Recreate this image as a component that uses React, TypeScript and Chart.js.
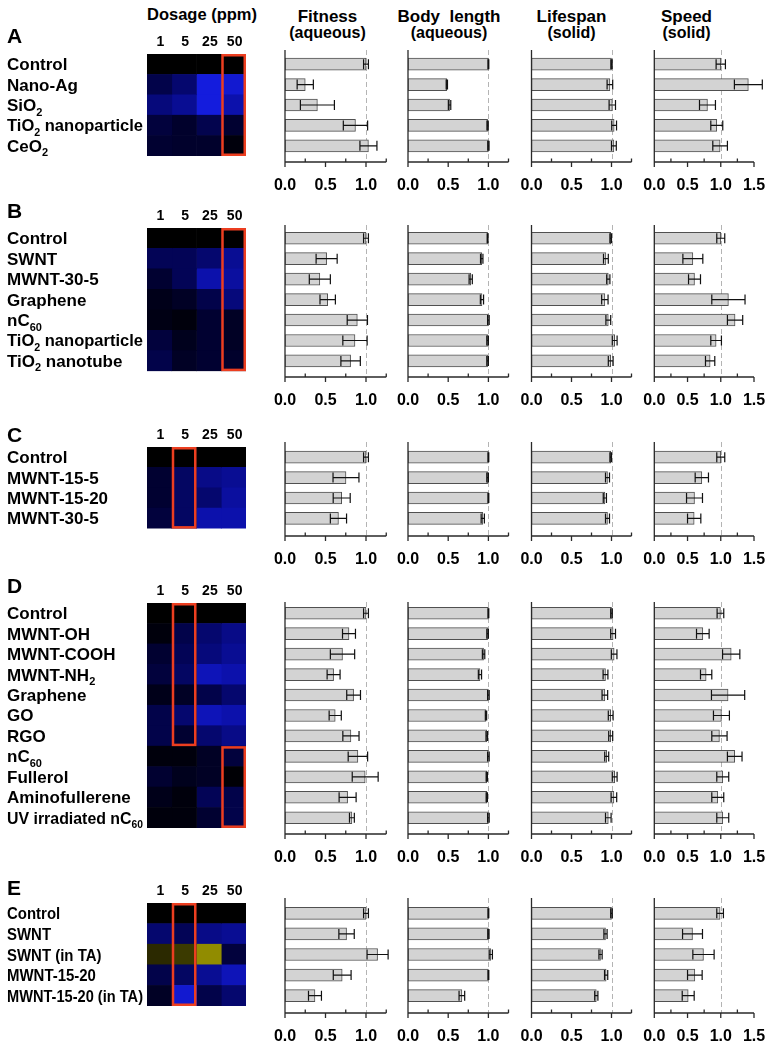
import React, { useEffect, useRef } from "react";
import { Chart, registerables } from "chart.js";

Chart.register(...registerables);

const FONT = '"Liberation Sans", Arial, Helvetica, sans-serif';

// ---------- shared text ----------
const doses = ["1", "5", "25", "50"];
const metricTitles = ["Fitness", "Body  length", "Lifespan", "Speed"];
const metricSubtitles = ["(aqueous)", "(aqueous)", "(solid)", "(solid)"];
const ticks125 = ["0.0", "0.5", "1.0"];
const ticks150 = ["0.0", "0.5", "1.0", "1.5"];

// ---------- panel A ----------
const labelsA = ["Control", "Nano-Ag", "SiO_2", "TiO_2 nanoparticle", "CeO_2"];
const heatA = [
  [0, 0, 0, 0],
  [-0.3, -0.45, -0.9, -0.85],
  [-0.5, -0.6, -0.9, -0.7],
  [-0.25, -0.18, -0.32, -0.2],
  [-0.2, -0.18, -0.18, -0.05],
];
const boxesA = [{ col: 3, from: 0, to: 4 }];
const fitA = [1.0, 0.25, 0.4, 0.87, 1.03];
const fitErrA = [0.03, 0.1, 0.21, 0.15, 0.105];
const bodyA = [1.0, 0.483, 0.517, 0.99, 1.0];
const bodyErrA = [0.005, 0.008, 0.015, 0.008, 0.008];
const lifeA = [1.0, 0.98, 1.01, 1.033, 1.03];
const lifeErrA = [0.008, 0.035, 0.04, 0.03, 0.03];
const speedA = [1.0, 1.415, 0.8, 0.94, 0.99];
const speedErrA = [0.07, 0.21, 0.12, 0.09, 0.11];

// ---------- panel B ----------
const labelsB = ["Control", "SWNT", "MWNT-30-5", "Graphene", "nC_60", "TiO_2 nanoparticle", "TiO_2 nanotube"];
const heatB = [
  [0, 0, 0, 0],
  [-0.35, -0.35, -0.45, -0.6],
  [-0.2, -0.35, -0.7, -0.65],
  [-0.1, -0.15, -0.3, -0.5],
  [-0.08, -0.05, -0.2, -0.15],
  [-0.25, -0.12, -0.2, -0.15],
  [-0.3, -0.15, -0.2, -0.18],
];
const boxesB = [{ col: 3, from: 0, to: 6 }];
const fitB = [1.0, 0.514, 0.43, 0.527, 0.893, 0.864, 0.81];
const fitErrB = [0.03, 0.13, 0.13, 0.095, 0.125, 0.15, 0.12];
const bodyB = [0.99, 0.917, 0.78, 0.92, 1.0, 0.99, 0.99];
const bodyErrB = [0.005, 0.015, 0.02, 0.02, 0.01, 0.01, 0.01];
const lifeB = [0.99, 0.93, 0.96, 0.917, 0.96, 1.04, 0.99];
const lifeErrB = [0.01, 0.03, 0.02, 0.04, 0.03, 0.03, 0.03];
const speedB = [1.0, 0.58, 0.605, 1.115, 1.215, 0.93, 0.84];
const speedErrB = [0.06, 0.15, 0.09, 0.25, 0.115, 0.08, 0.07];

// ---------- panel C ----------
const labelsC = ["Control", "MWNT-15-5", "MWNT-15-20", "MWNT-30-5"];
const heatC = [
  [0, 0, 0, 0],
  [-0.2, -0.4, -0.55, -0.6],
  [-0.2, -0.4, -0.45, -0.65],
  [-0.25, -0.4, -0.7, -0.7],
];
const boxesC = [{ col: 1, from: 0, to: 3 }];
const fitC = [1.0, 0.753, 0.7, 0.66];
const fitErrC = [0.03, 0.16, 0.105, 0.1];
const bodyC = [1.0, 0.99, 1.0, 0.93];
const bodyErrC = [0.005, 0.01, 0.005, 0.02];
const lifeC = [0.99, 0.95, 0.917, 0.95];
const lifeErrC = [0.01, 0.025, 0.02, 0.025];
const speedC = [1.0, 0.715, 0.605, 0.6];
const speedErrC = [0.06, 0.1, 0.12, 0.1];

// ---------- panel D ----------
const labelsD = [
  "Control", "MWNT-OH", "MWNT-COOH", "MWNT-NH_2", "Graphene", "GO", "RGO",
  "nC_60", "Fullerol", "Aminofullerene", "UV irradiated nC_60",
];
const heatD = [
  [0, 0, 0, 0],
  [-0.05, -0.3, -0.45, -0.55],
  [-0.2, -0.35, -0.5, -0.6],
  [-0.25, -0.4, -0.75, -0.7],
  [-0.1, -0.15, -0.3, -0.45],
  [-0.3, -0.45, -0.75, -0.7],
  [-0.3, -0.2, -0.45, -0.55],
  [-0.05, -0.05, -0.15, -0.25],
  [-0.2, -0.12, -0.15, -0.02],
  [-0.1, -0.05, -0.35, -0.3],
  [-0.05, -0.05, -0.2, -0.3],
];
const boxesD = [{ col: 1, from: 0, to: 6 }, { col: 3, from: 7, to: 10 }];
const fitD = [1.0, 0.79, 0.71, 0.6, 0.847, 0.62, 0.814, 0.9, 0.99, 0.773, 0.826];
const fitErrD = [0.03, 0.08, 0.15, 0.08, 0.085, 0.075, 0.1, 0.12, 0.16, 0.105, 0.03];
const bodyD = [1.0, 0.99, 0.94, 0.895, 1.0, 0.97, 0.98, 1.0, 0.98, 0.98, 1.0];
const bodyErrD = [0.005, 0.01, 0.015, 0.02, 0.01, 0.008, 0.01, 0.01, 0.008, 0.008, 0.01];
const lifeD = [1.0, 1.02, 1.033, 0.925, 0.917, 0.99, 0.99, 0.94, 1.04, 1.03, 0.96];
const lifeErrD = [0.01, 0.03, 0.035, 0.03, 0.035, 0.03, 0.025, 0.025, 0.03, 0.035, 0.035];
const speedD = [0.995, 0.73, 1.157, 0.78, 1.11, 1.01, 0.98, 1.21, 1.03, 0.955, 1.03];
const speedErrD = [0.05, 0.095, 0.13, 0.085, 0.25, 0.12, 0.115, 0.11, 0.09, 0.09, 0.09];

// ---------- panel E ----------
const labelsE = ["Control", "SWNT", "SWNT (in TA)", "MWNT-15-20", "MWNT-15-20 (in TA)"];
const heatE = [
  [0, 0, 0, 0],
  [-0.45, -0.35, -0.55, -0.6],
  [0.25, 0.35, 0.85, -0.25],
  [-0.3, -0.4, -0.6, -0.75],
  [-0.15, -0.85, -0.3, -0.45],
];
const boxesE = [{ col: 1, from: 0, to: 4 }];
const fitE = [1.0, 0.76, 1.143, 0.706, 0.37];
const fitErrE = [0.03, 0.095, 0.13, 0.11, 0.08];
const bodyE = [1.0, 1.0, 1.03, 1.0, 0.67];
const bodyErrE = [0.005, 0.008, 0.02, 0.005, 0.035];
const lifeE = [1.0, 0.925, 0.863, 0.933, 0.81];
const lifeErrE = [0.01, 0.02, 0.02, 0.02, 0.02];
const speedE = [0.99, 0.575, 0.74, 0.61, 0.51];
const speedErrE = [0.05, 0.15, 0.16, 0.11, 0.09];

// ---------- layout (pixel geometry only) ----------
const metricGeom = [
  { x0: 285, x1: 386.25, max: 1.25, ticks: ticks125, titleX: 327.5 },
  { x0: 408, x1: 508.5, max: 1.25, ticks: ticks125, titleX: 449 },
  { x0: 531.5, x1: 631.5, max: 1.25, ticks: ticks125, titleX: 571.5 },
  { x0: 654.3, x1: 754, max: 1.5, ticks: ticks150, titleX: 686.5 },
];

const panels = [
  { letter: "A", letterTop: 28, heatTop: 54, s: 20.4, axisTop: 50, axisBottom: 162, condense: 1,
    labels: labelsA, heat: heatA, boxes: boxesA,
    series: [[fitA, fitErrA], [bodyA, bodyErrA], [lifeA, lifeErrA], [speedA, speedErrA]] },
  { letter: "B", letterTop: 203, heatTop: 228, s: 20.45, axisTop: 225, axisBottom: 377, condense: 1,
    labels: labelsB, heat: heatB, boxes: boxesB,
    series: [[fitB, fitErrB], [bodyB, bodyErrB], [lifeB, lifeErrB], [speedB, speedErrB]] },
  { letter: "C", letterTop: 427, heatTop: 447, s: 20.4, axisTop: 442, axisBottom: 536, condense: 1,
    labels: labelsC, heat: heatC, boxes: boxesC,
    series: [[fitC, fitErrC], [bodyC, bodyErrC], [lifeC, lifeErrC], [speedC, speedErrC]] },
  { letter: "D", letterTop: 578, heatTop: 603, s: 20.45, axisTop: 602, axisBottom: 834, condense: 1,
    labels: labelsD, heat: heatD, boxes: boxesD,
    series: [[fitD, fitErrD], [bodyD, bodyErrD], [lifeD, lifeErrD], [speedD, speedErrD]] },
  { letter: "E", letterTop: 880, heatTop: 903, s: 20.6, axisTop: 898, axisBottom: 1013, condense: 0.88,
    labels: labelsE, heat: heatE, boxes: boxesE,
    series: [[fitE, fitErrE], [bodyE, bodyErrE], [lifeE, lifeErrE], [speedE, speedErrE]] },
];

const HEAT_LEFT = 147;
const HEAT_RIGHT = 246;

function heatColor(v: number): string {
  if (v >= 0) {
    return `rgb(${Math.round(170 * v)}, ${Math.round(165 * v)}, 0)`;
  }
  const a = -v;
  return `rgb(${Math.round(25 * a * a)}, ${Math.round(35 * a * a)}, ${Math.round(245 * a)})`;
}

function drawRich(ctx: CanvasRenderingContext2D, text: string, x: number, baseline: number,
  size: number, subSize: number, condense: number, maxW: number) {
  const parts = text.split(/_(\d+)/);
  let total = 0;
  parts.forEach((p, i) => {
    ctx.font = `bold ${i % 2 ? subSize : size}px ${FONT}`;
    total += ctx.measureText(p).width;
  });
  let k = condense;
  if (total * k > maxW) k = maxW / total;
  ctx.save();
  ctx.translate(x, baseline);
  ctx.scale(k, 1);
  let cx = 0;
  parts.forEach((p, i) => {
    ctx.font = `bold ${i % 2 ? subSize : size}px ${FONT}`;
    ctx.fillText(p, cx, i % 2 ? 4.5 : 0);
    cx += ctx.measureText(p).width;
  });
  ctx.restore();
}

function Heatmap({ panel }: { panel: any }) {
  const ref = useRef<HTMLCanvasElement>(null);
  const n = panel.labels.length;
  const canvasTop = panel.heatTop - 34;
  const width = 252;
  const height = Math.ceil(34 + n * panel.s + 6);
  useEffect(() => {
    const padTop = panel.heatTop - canvasTop;
    const padBottom = height - (panel.heatTop + n * panel.s - canvasTop);
    const deco = {
      id: "heatDeco",
      afterDraw(chart: any) {
        const { ctx, scales } = chart;
        const xs = scales.x;
        const ys = scales.y;
        ctx.save();
        ctx.fillStyle = "#000";
        ctx.textAlign = "left";
        ctx.textBaseline = "alphabetic";
        // panel letter
        ctx.font = `bold 21px ${FONT}`;
        ctx.fillText(panel.letter, 7, panel.letterTop - canvasTop + 15);
        // row labels
        panel.labels.forEach((lab: string, i: number) => {
          const yc = ys.getPixelForValue(i);
          drawRich(ctx, lab, 7, yc + 6, 17, 11, panel.condense, 136);
        });
        // dose labels
        ctx.font = `bold 14px ${FONT}`;
        ctx.textAlign = "center";
        doses.forEach((d, j) => {
          const xc = (xs.getPixelForValue(j) + xs.getPixelForValue(j + 1)) / 2;
          ctx.fillText(d, xc + 1, chart.chartArea.top - 8.5);
        });
        // highlight boxes
        ctx.strokeStyle = "rgb(236, 62, 32)";
        ctx.lineWidth = 2.5;
        panel.boxes.forEach((b: any) => {
          const xa = xs.getPixelForValue(b.col);
          const xb = xs.getPixelForValue(b.col + 1);
          const half = panel.s / 2;
          const ya = ys.getPixelForValue(b.from) - half;
          const yb = ys.getPixelForValue(b.to) + half;
          ctx.strokeRect(xa + 1.25, ya + 1.25, xb - xa - 2.5, yb - ya - 2.5);
        });
        ctx.restore();
      },
    };
    const chart = new Chart(ref.current as HTMLCanvasElement, {
      type: "bar",
      data: {
        labels: panel.labels,
        datasets: doses.map((d, j) => ({
          label: d,
          data: panel.labels.map(() => 1),
          backgroundColor: panel.heat.map((row: number[]) => heatColor(row[j])),
          borderWidth: 0,
          barPercentage: 1,
          categoryPercentage: 1,
        })),
      },
      options: {
        indexAxis: "y",
        animation: false,
        responsive: false,
        devicePixelRatio: 1,
        events: [],
        layout: {
          padding: { left: HEAT_LEFT, right: width - HEAT_RIGHT, top: padTop, bottom: padBottom },
        },
        plugins: { legend: { display: false }, tooltip: { enabled: false } },
        scales: {
          x: { type: "linear", stacked: true, min: 0, max: 4, display: false },
          y: { type: "category", stacked: true, display: false, offset: true },
        },
      } as any,
      plugins: [deco],
    });
    return () => chart.destroy();
  }, []);
  return (
    <canvas ref={ref} width={width} height={height}
      style={{ position: "absolute", left: 0, top: canvasTop }} />
  );
}

function BarBox({ panel, m }: { panel: any; m: number }) {
  const ref = useRef<HTMLCanvasElement>(null);
  const geom = metricGeom[m];
  const [values, errors] = panel.series[m];
  const n = panel.labels.length;
  const canvasLeft = Math.round(geom.x0) - 24;
  const canvasTop = panel.axisTop - 4;
  const width = Math.ceil(geom.x1 - canvasLeft + 24);
  const height = Math.ceil(panel.axisBottom - canvasTop + 40);
  useEffect(() => {
    const padTop = panel.heatTop - canvasTop;
    const padBottom = height - (panel.heatTop + n * panel.s - canvasTop);
    const padLeft = geom.x0 - canvasLeft;
    const padRight = width - (geom.x1 - canvasLeft);
    const aTop = panel.axisTop - canvasTop;
    const aBot = panel.axisBottom - canvasTop;
    const deco = {
      id: "barDeco",
      beforeDatasetsDraw(chart: any) {
        const { ctx } = chart;
        const xs = chart.scales.x;
        const px = Math.round(xs.getPixelForValue(1)) + 0.5;
        ctx.save();
        ctx.strokeStyle = "#b4b4b4";
        ctx.lineWidth = 1;
        ctx.setLineDash([5, 3]);
        ctx.beginPath();
        ctx.moveTo(px, aTop);
        ctx.lineTo(px, aBot);
        ctx.stroke();
        ctx.restore();
      },
      afterDatasetsDraw(chart: any) {
        const { ctx } = chart;
        const xs = chart.scales.x;
        const meta = chart.getDatasetMeta(0);
        ctx.save();
        // error bars
        ctx.strokeStyle = "#111";
        ctx.lineWidth = 1.2;
        meta.data.forEach((bar: any, i: number) => {
          const y = bar.y;
          const lo = xs.getPixelForValue(values[i] - errors[i]);
          const hi = xs.getPixelForValue(values[i] + errors[i]);
          ctx.beginPath();
          ctx.moveTo(lo, y);
          ctx.lineTo(hi, y);
          ctx.moveTo(lo, y - 5);
          ctx.lineTo(lo, y + 5);
          ctx.moveTo(hi, y - 5);
          ctx.lineTo(hi, y + 5);
          ctx.stroke();
        });
        // axes
        const x0 = xs.getPixelForValue(0);
        const xm = xs.getPixelForValue(geom.max);
        ctx.strokeStyle = "#2a2a2a";
        ctx.lineWidth = 1.3;
        ctx.beginPath();
        ctx.moveTo(x0, aTop);
        ctx.lineTo(x0, aBot);
        ctx.moveTo(x0, aBot);
        ctx.lineTo(xm, aBot);
        for (let k = 0; k <= Math.round(geom.max / 0.25); k++) {
          const v = k * 0.25;
          const px = xs.getPixelForValue(v);
          if (k % 2 === 0) {
            ctx.moveTo(px, aBot);
            ctx.lineTo(px, aBot + 5);
          } else {
            ctx.moveTo(px, aBot);
            ctx.lineTo(px, aBot - 3.5);
          }
        }
        ctx.stroke();
        // tick labels
        ctx.fillStyle = "#000";
        ctx.font = `bold 16px ${FONT}`;
        ctx.textAlign = "center";
        ctx.textBaseline = "middle";
        geom.ticks.forEach((t: string) => {
          ctx.fillText(t, xs.getPixelForValue(parseFloat(t)), aBot + 24);
        });
        ctx.restore();
      },
    };
    const chart = new Chart(ref.current as HTMLCanvasElement, {
      type: "bar",
      data: {
        labels: panel.labels,
        datasets: [
          {
            data: values,
            backgroundColor: "#d3d3d3",
            borderColor: "#505050",
            borderWidth: 1,
            borderSkipped: false,
            barThickness: 12,
          },
        ],
      },
      options: {
        indexAxis: "y",
        animation: false,
        responsive: false,
        devicePixelRatio: 1,
        events: [],
        layout: { padding: { left: padLeft, right: padRight, top: padTop, bottom: padBottom } },
        plugins: { legend: { display: false }, tooltip: { enabled: false } },
        scales: {
          x: { type: "linear", min: 0, max: geom.max, display: false },
          y: { type: "category", display: false, offset: true },
        },
      } as any,
      plugins: [deco],
    });
    return () => chart.destroy();
  }, []);
  return (
    <canvas ref={ref} width={width} height={height}
      style={{ position: "absolute", left: canvasLeft, top: canvasTop }} />
  );
}

export default function App() {
  return (
    <div
      style={{
        position: "absolute",
        left: 0,
        top: 0,
        width: 774,
        height: 1050,
        overflow: "hidden",
        background: "#fff",
        fontFamily: FONT,
        color: "#000",
      }}
    >
      <div style={{ position: "absolute", left: 147, top: 5, fontSize: 16.5, lineHeight: "18px", fontWeight: "bold", whiteSpace: "pre" }}>
        Dosage (ppm)
      </div>
      {metricTitles.map((t, m) => (
        <React.Fragment key={t}>
          <div style={{ position: "absolute", left: metricGeom[m].titleX - 60, width: 120, top: 7.6, textAlign: "center", fontSize: 17, lineHeight: "18px", fontWeight: "bold", whiteSpace: "pre" }}>
            {t}
          </div>
          <div style={{ position: "absolute", left: metricGeom[m].titleX - 60, width: 120, top: 24, textAlign: "center", fontSize: 16, lineHeight: "18px", fontWeight: "bold", whiteSpace: "pre" }}>
            {metricSubtitles[m]}
          </div>
        </React.Fragment>
      ))}
      {panels.map((p) => (
        <React.Fragment key={p.letter}>
          <Heatmap panel={p} />
          {[0, 1, 2, 3].map((m) => (
            <BarBox key={m} panel={p} m={m} />
          ))}
        </React.Fragment>
      ))}
    </div>
  );
}
